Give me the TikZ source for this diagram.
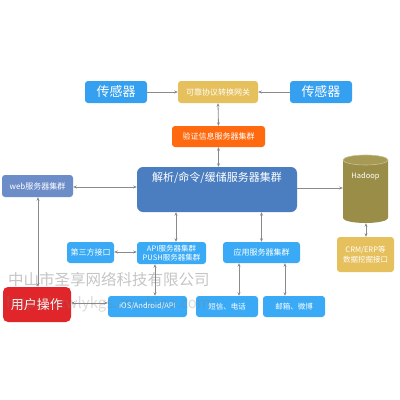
\documentclass[tikz,border=0pt]{standalone}
\usepackage{fontspec}
\setmainfont{Noto Sans CJK SC}
\usetikzlibrary{arrows.meta}
\definecolor{sensorblue}{HTML}{36A0F0}
\definecolor{lightblue}{HTML}{3AAAF6}
\definecolor{gold}{HTML}{E6C05C}
\definecolor{orangex}{HTML}{FF6A10}
\definecolor{mainblue}{HTML}{4B7EC0}
\definecolor{webblue}{HTML}{6D8DC9}
\definecolor{olive}{HTML}{9A8D47}
\definecolor{olivetop}{HTML}{A69A55}
\definecolor{redx}{HTML}{E0262A}
\definecolor{linegray}{HTML}{8A8A8A}
\tikzset{
  box/.style={rectangle, rounded corners=3pt, inner sep=0pt, text=white, align=center, font=\fontsize{8}{9.5}\selectfont},
  conn/.style={draw=linegray, line width=0.8pt, -{Stealth[length=3.5pt,width=3pt]}},
  bconn/.style={draw=linegray, line width=0.8pt, {Stealth[length=3.5pt,width=3pt]}-{Stealth[length=3.5pt,width=3pt]}},
}
\begin{document}
\begin{tikzpicture}[x=1pt,y=-1pt]
\useasboundingbox[fill=white] (0,0) rectangle (400,400);
% top row
\node[box, fill=sensorblue, minimum width=62pt, minimum height=22pt, font=\fontsize{13}{14}\selectfont] (s1) at (116,92) {传感器};
\node[box, fill=gold, minimum width=80pt, minimum height=22pt] (gw) at (218,92) {可靠协议转换网关};
\node[box, fill=sensorblue, minimum width=62pt, minimum height=22pt, font=\fontsize{13}{14}\selectfont] (s2) at (321,92) {传感器};
\node[box, fill=orangex, minimum width=93pt, minimum height=21pt] (ver) at (218.5,136.5) {验证信息服务器集群};
% main
\node[box, fill=mainblue, rounded corners=6pt, minimum width=160pt, minimum height=45pt,
  label={[label distance=-20pt, text=white, font=\fontsize{11}{12}\selectfont]north:解析/命令/缓储服务器集群}] (main) at (217,189.5) {};
\node[box, fill=webblue, minimum width=71pt, minimum height=22pt] (web) at (37.5,186) {web服务器集群};
% hadoop cylinder
\fill[olive] (343,160) -- (343,218) arc[start angle=180, end angle=360, x radius=22.5pt, y radius=5pt] -- (388,160) -- cycle;
\filldraw[fill=olivetop, draw=olive!55!white, line width=0.6pt] (365.5,160) ellipse [x radius=22.5pt, y radius=5pt];
\node[inner sep=0pt, minimum width=45pt, minimum height=68pt] (hadoop) at (365.5,189) {};
\node[text=white, font=\fontsize{7.5}{9}\selectfont, inner sep=0pt] (hlabel) at (365.5,176) {Hadoop};
\node[box, fill=gold, minimum width=57pt, minimum height=35pt, font=\fontsize{7.5}{10}\selectfont] (crm) at (365.5,254.5) {CRM/ERP等\\数据挖掘接口};
% middle row
\node[box, fill=lightblue, minimum width=47pt, minimum height=21pt] (third) at (90.5,252.5) {第三方接口};
\node[box, fill=lightblue, minimum width=69pt, minimum height=22pt, font=\fontsize{7.5}{8.5}\selectfont] (api) at (171.5,253) {API服务器集群\\PUSH服务器集群};
\node[box, fill=lightblue, minimum width=77pt, minimum height=21pt] (app) at (261.5,252.5) {应用服务器集群};
% bottom row
\node[box, fill=redx, rounded corners=5pt, minimum width=68pt, minimum height=35pt, font=\fontsize{13}{14}\selectfont] (user) at (37,304.5) {用户操作};
\node[box, fill=lightblue, minimum width=79pt, minimum height=21pt, font=\fontsize{7.5}{9}\selectfont] (ios) at (147.5,306.5) {iOS/Android/API};
\node[box, fill=lightblue, minimum width=62pt, minimum height=21pt, font=\fontsize{7.5}{9}\selectfont] (sms) at (227,306.5) {短信、电话};
\node[box, fill=lightblue, minimum width=62pt, minimum height=21pt, font=\fontsize{7.5}{9}\selectfont] (mail) at (294,306.5) {邮箱、微博};
% helper coordinates
\coordinate (xapi) at (176,0);
\coordinate (xios) at (155,0);
\coordinate (xsms) at (239,0);
\coordinate (xmail) at (285,0);
\coordinate (xweb) at (38,0);
\coordinate (xhd) at (366,0);
\coordinate (ymain) at (0,188);
\coordinate (yweb) at (0,187);
\coordinate (yuser) at (0,303);
\coordinate (ythird) at (0,252);
% connectors
\draw[conn] (s1.east) -- (gw.west);
\draw[conn] (s2.west) -- (gw.east);
\draw[bconn] (gw.south) -- (ver.north);
\draw[bconn] (ver.south) -- (ver.south |- main.north);
\draw[bconn] (web.east |- yweb) -- (main.west |- yweb);
\draw[conn] (main.east |- ymain) -- (hadoop.west |- ymain);
\draw[bconn] (hadoop.south -| xhd) -- (crm.north -| xhd);
\draw[bconn] (main.south -| xapi) -- (api.north -| xapi);
\draw[bconn] (main.south -| app.north) -- (app.north);
\draw[bconn] (third.east |- ythird) -- (api.west |- ythird);
\draw[bconn] (api.south -| xios) -- (ios.north -| xios);
\draw[bconn] (app.south -| xsms) -- (sms.north -| xsms);
\draw[bconn] (app.south -| xmail) -- (mail.north -| xmail);
\draw[bconn] (web.south -| xweb) -- (user.north -| xweb);
\draw[bconn] (user.east |- yuser) -- (ios.west |- yuser);
% watermark
\node[text=gray, opacity=0.45, inner sep=0pt, anchor=west, font=\fontsize{15.5}{16}\selectfont] (wm1) at (8,280) {中山市圣享网络科技有限公司};
\node[text=gray, opacity=0.28, inner sep=0pt, anchor=west, font=\fontsize{15}{16}\selectfont] (wm2) at (6,304) {http://szwlykgs.cn.china.com};
\end{tikzpicture}
\end{document}
